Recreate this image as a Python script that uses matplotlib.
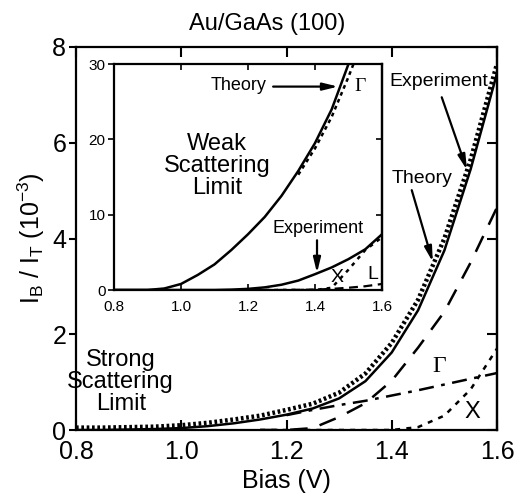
import numpy as np
import matplotlib
matplotlib.use('Agg')
import matplotlib.pyplot as plt

plt.rcParams['font.family'] = ['Liberation Sans', 'DejaVu Sans']
plt.rcParams['mathtext.fontset'] = 'custom'
plt.rcParams['mathtext.rm'] = 'Liberation Sans'
plt.rcParams['mathtext.it'] = 'Liberation Sans'

# main panel: strong scattering limit, I_B/I_T in 1e-3
bias = [0.80, 0.85, 0.90, 0.95, 1.00, 1.05, 1.10, 1.15, 1.20,
        1.25, 1.30, 1.35, 1.40, 1.45, 1.50, 1.55, 1.60]
theory = [0.0, 0.0, 0.01, 0.02, 0.04, 0.08, 0.14, 0.22, 0.32,
          0.45, 0.66, 1.02, 1.62, 2.50, 3.75, 5.45, 7.45]
experiment = [0.05, 0.05, 0.06, 0.07, 0.10, 0.15, 0.22, 0.30, 0.42,
              0.55, 0.78, 1.18, 1.82, 2.72, 4.00, 5.65, 7.65]
bias_gamma = [1.20, 1.25, 1.30, 1.35, 1.40, 1.45, 1.50, 1.55, 1.60]
gamma_main = [0.31, 0.42, 0.52, 0.61, 0.72, 0.83, 0.95, 1.07, 1.19]
bias_hi = [1.15, 1.20, 1.25, 1.30, 1.35, 1.40, 1.45, 1.50, 1.55, 1.60]
l_main = [0.0, 0.0, 0.04, 0.27, 0.56, 1.03, 1.72, 2.47, 3.50, 4.65]
x_main = [0.0, 0.0, 0.0, 0.0, 0.0, 0.0, 0.06, 0.30, 0.85, 1.70]

# inset: weak scattering limit
bias_in = [0.80, 0.85, 0.90, 0.95, 1.00, 1.05, 1.10, 1.15, 1.20,
           1.25, 1.30, 1.35, 1.40, 1.45, 1.50, 1.55, 1.60]
theory_in = [0.0, 0.0, 0.0, 0.2, 0.8, 2.0, 3.4, 5.3, 7.4,
             9.7, 12.5, 15.8, 19.5, 24.0, 30.0, 36.5, 43.0]
exp_in = [0.0, 0.0, 0.0, 0.0, 0.0, 0.0, 0.0, 0.05, 0.15,
          0.35, 0.70, 1.25, 2.10, 3.00, 4.10, 5.40, 7.40]
bias_gin = [1.35, 1.40, 1.45, 1.50, 1.55]
gamma_in = [15.3, 18.8, 23.0, 28.3, 34.0]
bias_xin = [1.20, 1.30, 1.40, 1.45, 1.50, 1.55, 1.60]
x_in = [0.0, 0.0, 0.0, 0.3, 2.7, 5.3, 7.0]
l_in = [0.0, 0.0, 0.05, 0.15, 0.30, 0.50, 0.80]

main_ticks = [0.8, 1.0, 1.2, 1.4, 1.6]
main_yticks = [0, 2, 4, 6, 8]
inset_yticks = [0, 10, 20, 30]

fig = plt.figure(figsize=(5.15, 4.99), dpi=100)
ax = fig.add_axes([76 / 515, 1 - 430 / 499, 421 / 515, 383 / 499])

ax.plot(bias, theory, color='k', lw=1.8)
ax.plot(bias, experiment, color='k', lw=3.2, ls=(0, (0.6, 0.6)))
ax.plot(bias_gamma, gamma_main, color='k', lw=1.8, ls=(0, (6, 3, 1.5, 3)))
ax.plot(bias_hi, l_main, color='k', lw=1.8, ls=(0, (7, 5)))
ax.plot(bias_hi, x_main, color='k', lw=1.8, ls=(0, (2, 2.5)))

ax.set_xlim(0.8, 1.6)
ax.set_ylim(0, 8)
ax.set_xticks(main_ticks)
ax.set_xticklabels(['%.1f' % v for v in main_ticks])
ax.set_yticks(main_yticks)
ax.tick_params(axis='x', direction='in', top=True, length=7, width=1.5,
               labelsize=18, pad=7.5)
ax.tick_params(axis='y', direction='out', length=5, width=1.5,
               labelsize=18, pad=2)
sec = ax.secondary_yaxis('right')
sec.set_yticks(main_yticks)
sec.tick_params(direction='in', length=7, width=1.5, labelright=False)
for s in list(ax.spines.values()) + list(sec.spines.values()):
    s.set_linewidth(1.6)

ax.set_xlabel('Bias (V)', fontsize=18, labelpad=3)
ax.set_ylabel(r'$\mathrm{I_B\ /\ I_T\ (10^{-3})}$', fontsize=18, labelpad=4)
ax.set_title('Au/GaAs (100)', fontsize=17, pad=12, x=0.455)

ax.text(0.885, 1.0, 'Strong\nScattering\nLimit', fontsize=17,
        ha='center', va='center', linespacing=1.0)
ax.text(1.368, 4.26, 'L', fontsize=17, ha='center', va='center')
ax.text(1.491, 1.32, '\u0393', fontsize=17, ha='center', va='center',
        family='Liberation Serif')
ax.text(1.554, 0.38, 'X', fontsize=17, ha='center', va='center')

arr = dict(arrowstyle='-|>,head_length=0.9,head_width=0.22', color='k',
           lw=1.6, shrinkA=0, shrinkB=0)
ax.text(1.49, 7.27, 'Experiment', fontsize=14, ha='center', va='center')
ax.annotate('', xy=(1.543, 5.43), xytext=(1.495, 6.95), arrowprops=arr)
ax.text(1.457, 5.26, 'Theory', fontsize=14, ha='center', va='center')
ax.annotate('', xy=(1.478, 3.51), xytext=(1.438, 5.01), arrowprops=arr)

# inset
ins = fig.add_axes([114 / 515, 1 - 290 / 499, 268 / 515, 226 / 499])
ins.plot(bias_in, theory_in, color='k', lw=1.8)
ins.plot(bias_in, exp_in, color='k', lw=1.8)
ins.plot(bias_gin, gamma_in, color='k', lw=1.8, ls=(0, (1.5, 1.5)))
ins.plot(bias_xin, x_in, color='k', lw=1.8, ls=(0, (1.5, 2)))
ins.plot(bias_xin, l_in, color='k', lw=1.6, ls=(0, (4, 2.5)))
ins.set_xlim(0.8, 1.6)
ins.set_ylim(0, 30)
ins.set_xticks(main_ticks)
ins.set_xticklabels(['%.1f' % v for v in main_ticks])
ins.set_yticks(inset_yticks)
ins.tick_params(axis='x', direction='in', top=True, length=4, width=1.2,
                labelsize=11, pad=7)
ins.tick_params(axis='y', direction='out', length=4, width=1.2,
                labelsize=11, pad=2)
isec = ins.secondary_yaxis('right')
isec.set_yticks(inset_yticks)
isec.tick_params(direction='in', length=4, width=1.2, labelright=False)
for s in list(ins.spines.values()) + list(isec.spines.values()):
    s.set_linewidth(1.6)

ins.text(1.107, 16.5, 'Weak\nScattering\nLimit', fontsize=17,
         ha='center', va='center', linespacing=1.0)
ins.text(1.173, 27.1, 'Theory', fontsize=13, ha='center', va='center')
ins.annotate('', xy=(1.469, 27.0), xytext=(1.275, 27.0), arrowprops=arr)
ins.text(1.534, 27.0, '\u0393', fontsize=14, ha='center', va='center',
         family='Liberation Serif')
ins.text(1.409, 8.1, 'Experiment', fontsize=13, ha='center', va='center')
ins.annotate('', xy=(1.406, 2.26), xytext=(1.406, 6.6), arrowprops=arr)
ins.text(1.466, 1.6, 'X', fontsize=14, ha='center', va='center')
ins.text(1.573, 2.0, 'L', fontsize=14, ha='center', va='center')

fig.savefig('out.png', dpi=100)
